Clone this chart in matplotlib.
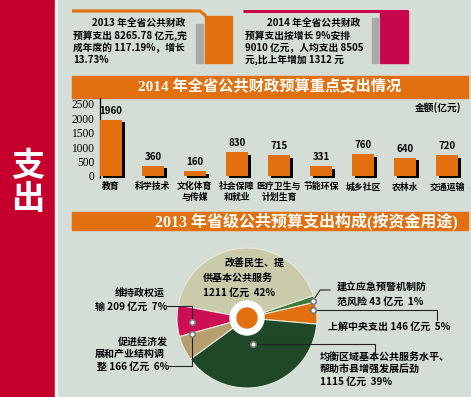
import numpy as np
import matplotlib.pyplot as plt
from matplotlib.patches import Rectangle, Circle

plt.rcParams['font.family'] = ['Noto Sans CJK SC', 'DejaVu Sans']

W, H = 471, 397

# 柱状图数据（亿元）
categories = ['教育', '科学技术', '文化体育\n与传媒', '社会保障\n和就业', '医疗卫生与\n计划生育',
              '节能环保', '城乡社区', '农林水', '交通运输']
amounts = [1960, 360, 160, 830, 715, 331, 760, 640, 720]
yticks = [0, 500, 1000, 1500, 2000, 2500]

# 饼图数据（逆时针顺序）
pie_values = [146, 43, 1211, 209, 166, 1115]
pie_pcts = [5, 1, 42, 7, 6, 39]
pie_colors = ['#e2700f', '#3d7a3a', '#c9cbab', '#cc0f55', '#b89f70', '#1e4827']

ORANGE = '#e2700f'
MAGENTA = '#c8064c'
RED = '#c5002c'
BG = '#d4ded6'


def Y(y):
    # 像素坐标(自上而下) -> 数据坐标
    return H - y


fig = plt.figure(figsize=(W / 100, H / 100), dpi=100, facecolor=BG)
ax = fig.add_axes([0, 0, 1, 1])
ax.set_facecolor(BG)

bold = dict(fontweight='bold', color='black')

# 左侧红色竖条
ax.add_patch(Rectangle((0, 0), 55, H, color=RED, zorder=1))
ax.add_patch(Rectangle((55, 0), 1.5, H, color='#eef2ee', zorder=1))
ax.text(27.5, Y(183), '支\n出', color='white', fontsize=24, fontweight='bold',
        ha='center', va='center', linespacing=1.0)

# 顶部两个说明框
ax.plot([72, 200, 206], [Y(11), Y(11), Y(16)], color=ORANGE, lw=2.2, solid_capstyle='butt')
ax.add_patch(Rectangle((205, Y(63)), 27, 47, color=ORANGE))
ax.add_patch(Rectangle((196, Y(63)), 7, 39, color='#a9a9a9'))
ax.plot([243, 408], [Y(11), Y(11)], color=MAGENTA, lw=2.2, solid_capstyle='butt')
ax.add_patch(Rectangle((380, Y(63)), 28, 52, color=MAGENTA))
ax.add_patch(Rectangle((372, Y(63)), 6, 45, color='#a9a9a9'))

left_lines = ['2013 年全省公共财政', '预算支出 8265.78 亿元,完', '成年度的 117.19%，增长', '13.73%']
right_lines = ['2014 年全省公共财政', '预算支出按增长 9%安排', '9010 亿元，人均支出 8505', '元,比上年增加 1312 元']
for i, (a, b) in enumerate(zip(left_lines, right_lines)):
    yy = Y(23 + 12.3 * i)
    ax.text(92 if i == 0 else 73, yy, a, fontsize=7, ha='left', va='center', **bold)
    ax.text(267 if i == 0 else 245, yy, b, fontsize=7, ha='left', va='center', **bold)

# 标题横幅
ax.add_patch(Rectangle((72, Y(98)), 396, 22, color=ORANGE))
ax.text(270, Y(87), '2014 年全省公共财政预算重点支出情况', color='white', fontsize=11,
        fontweight='bold', ha='center', va='center',
        family=['Liberation Serif', 'Noto Sans CJK SC'])
ax.add_patch(Rectangle((72, Y(230)), 396, 18, color=ORANGE))
ax.text(306, Y(221), '2013 年省级公共预算支出构成(按资金用途)', color='white', fontsize=11.5,
        fontweight='bold', ha='center', va='center',
        family=['Liberation Serif', 'Noto Sans CJK SC'])
ax.text(438, Y(108), '金额(亿元)', fontsize=7, ha='center', va='center', **bold)

# 饼图
wedges, _ = ax.pie(pie_values, colors=pie_colors, startangle=-5, counterclock=True,
                   center=(247, Y(318)), radius=70, frame=True,
                   wedgeprops=dict(edgecolor='#e8eadc', linewidth=0.8))
ax.add_patch(Circle((247, Y(318)), 17, color='white', zorder=5))
ax.add_patch(Circle((247, Y(318)), 10, color=ORANGE, zorder=6))

# 引线与标记
leaders = [
    [(313, 301), (320, 290), (330, 290)],
    [(313, 310), (437, 310), (437, 320)],
    [(253, 344), (375, 344), (375, 354)],
    [(192, 322), (192, 306), (167, 306)],
    [(192, 334), (192, 366), (168, 366)],
]
for pts in leaders:
    xs = [p[0] for p in pts]
    ys = [Y(p[1]) for p in pts]
    ax.plot(xs, ys, color='#222222', lw=0.8, zorder=7)
    ax.scatter([xs[0]], [ys[0]], s=16, facecolor='white', edgecolor='#777777',
               linewidths=1.2, zorder=8)

fs = 7.2
# 改善民生
ax.text(225, Y(264), '改善民生、提', fontsize=fs, ha='left', va='center', zorder=9, **bold)
ax.text(203, Y(279), '供基本公共服务', fontsize=fs, ha='left', va='center', zorder=9, **bold)
ax.text(203, Y(293), f'{pie_values[2]} 亿元  {pie_pcts[2]}%', fontsize=fs, ha='left',
        va='center', zorder=9, **bold)
# 建立应急
ax.text(337, Y(288), '建立应急预警机制防', fontsize=fs, ha='left', va='center', **bold)
ax.text(337, Y(302), f'范风险 {pie_values[1]} 亿元  {pie_pcts[1]}%', fontsize=fs,
        ha='left', va='center', **bold)
# 上解中央
ax.text(328, Y(327), f'上解中央支出 {pie_values[0]} 亿元  {pie_pcts[0]}%', fontsize=fs,
        ha='left', va='center', **bold)
# 均衡区域
ax.text(320, Y(358), '均衡区域基本公共服务水平、', fontsize=fs, ha='left', va='center', **bold)
ax.text(320, Y(370), '帮助市县增强发展后劲', fontsize=fs, ha='left', va='center', **bold)
ax.text(320, Y(382), f'{pie_values[5]} 亿元  {pie_pcts[5]}%', fontsize=fs, ha='left',
        va='center', **bold)
# 维持政权
ax.text(115, Y(294), '维持政权运', fontsize=fs, ha='left', va='center', **bold)
ax.text(95, Y(307), f'输 {pie_values[3]} 亿元  {pie_pcts[3]}%', fontsize=fs, ha='left',
        va='center', **bold)
# 促进经济
ax.text(118, Y(342), '促进经济发', fontsize=fs, ha='left', va='center', **bold)
ax.text(95, Y(354), '展和产业结构调', fontsize=fs, ha='left', va='center', **bold)
ax.text(97, Y(367), f'整 {pie_values[4]} 亿元  {pie_pcts[4]}%', fontsize=fs, ha='left',
        va='center', **bold)

ax.set_xlim(0, W)
ax.set_ylim(0, H)
ax.set_aspect('equal')
ax.axis('off')

# 柱状图
bax = fig.add_axes([100 / W, (H - 178) / H, 368 / W, 80 / H])
bax.patch.set_alpha(0)
x = np.arange(len(amounts))
bax.bar(x + 0.075, amounts, width=0.52, bottom=-100, color='black', zorder=2)
bax.bar(x, amounts, width=0.52, color=ORANGE, zorder=3)
for xi, v in zip(x, amounts):
    bax.text(xi, v + 140, str(v), ha='center', va='bottom', fontsize=7, **bold)
bax.set_xlim(-0.262, 8.5)
bax.set_ylim(-70, 2708)
bax.set_yticks(yticks)
bax.set_yticklabels([str(t) for t in yticks], family='Liberation Serif', fontsize=8.3)
bax.set_xticks(x)
bax.set_xticklabels(categories, fontsize=6.4, fontweight='bold', linespacing=1.25)
bax.tick_params(length=0, axis='y', pad=4)
bax.tick_params(length=0, axis='x', pad=3)
for s in ['top', 'right', 'bottom']:
    bax.spines[s].set_visible(False)
bax.spines['left'].set_linewidth(0.9)

fig.savefig('out.png', dpi=100, facecolor=BG)
